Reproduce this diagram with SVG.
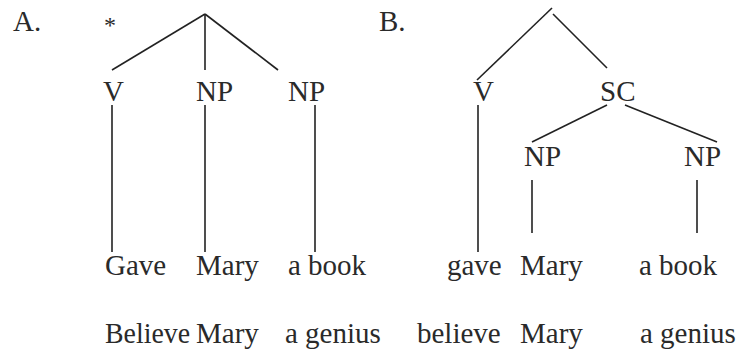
<svg xmlns="http://www.w3.org/2000/svg" width="744" height="356" viewBox="0 0 744 356">
<style>
text{font-family:'Liberation Serif','Tinos','DejaVu Serif','Times New Roman',Times,serif;font-size:29px;fill:#2a2a2a}
.e line{stroke:#222;stroke-width:1.6;fill:none}
</style>
<rect width="744" height="356" fill="#fff"/>
<g id="labelA"><text x="13" y="31">A.</text></g>
<g id="star"><text x="104" y="33" style="font-size:24px">*</text></g>
<g id="labelB"><text x="379" y="31">B.</text></g>
<g class="e" id="connectors">
<line x1="205" y1="14" x2="112" y2="70"/>
<line x1="205" y1="14" x2="205" y2="70"/>
<line x1="205" y1="14" x2="278" y2="70"/>
<line x1="112" y1="105" x2="112" y2="252"/>
<line x1="205" y1="105" x2="205" y2="252"/>
<line x1="315" y1="105" x2="315" y2="252"/>
<line x1="552" y1="8" x2="477" y2="80"/>
<line x1="553" y1="14" x2="607" y2="68"/>
<line x1="607" y1="105" x2="532" y2="142"/>
<line x1="625" y1="105" x2="717" y2="142"/>
<line x1="478" y1="105" x2="478" y2="252"/>
<line x1="532" y1="180" x2="532" y2="233"/>
<line x1="697" y1="180" x2="697" y2="233"/>
</g>
<g id="A-V"><text x="103" y="101">V</text></g>
<g id="A-NP1"><text x="196" y="101">NP</text></g>
<g id="A-NP2"><text x="288" y="101">NP</text></g>
<g id="A-Gave"><text x="105" y="275">Gave</text></g>
<g id="A-Mary"><text x="196" y="275">Mary</text></g>
<g id="A-abook"><text x="288" y="275">a book</text></g>
<g id="A-row2"><text x="105" y="343" textLength="85" lengthAdjust="spacingAndGlyphs">Believe</text><text x="196" y="343">Mary</text><text x="285" y="343">a genius</text></g>
<g id="B-V"><text x="473" y="101">V</text></g>
<g id="B-SC"><text x="600" y="101">SC</text></g>
<g id="B-NP1"><text x="524" y="166">NP</text></g>
<g id="B-NP2"><text x="684" y="166">NP</text></g>
<g id="B-gave"><text x="447" y="275">gave</text></g>
<g id="B-Mary"><text x="520" y="275">Mary</text></g>
<g id="B-abook"><text x="639" y="275">a book</text></g>
<g id="B-row2"><text x="417" y="343">believe</text><text x="520" y="343">Mary</text><text x="640" y="343">a genius</text></g>
</svg>
